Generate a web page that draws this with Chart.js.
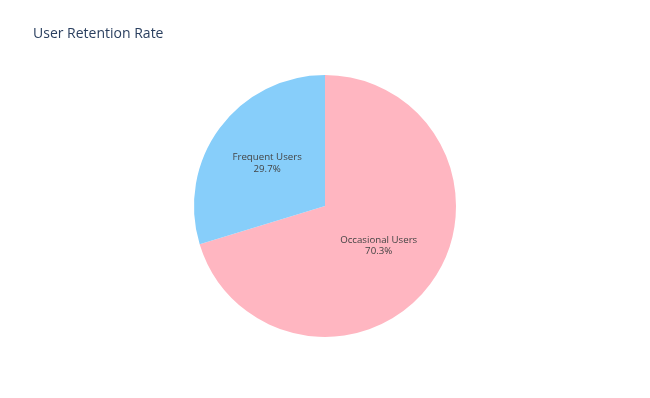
<!DOCTYPE html>
<html>
<head>
<meta charset="utf-8">
<script src="https://cdn.jsdelivr.net/npm/chart.js@4/dist/chart.umd.min.js"></script>
<style>
  html, body { margin: 0; padding: 0; background: #fff; }
  #wrap { width: 650px; height: 398px; }
</style>
</head>
<body>
<div id="wrap"><canvas id="c" width="650" height="398"></canvas></div>
<script>
const chartTitle = "User Retention Rate";
const categories = ["Occasional Users", "Frequent Users"];
const shares = [70.3, 29.7];
const sliceColors = ["#FFB6C1", "#87CEFA"];

const FONT = '"Open Sans", verdana, sans-serif';

const titlePlugin = {
  id: 'plotTitle',
  afterDraw(chart) {
    const ctx = chart.ctx;
    ctx.save();
    ctx.font = '14px ' + FONT;
    ctx.fillStyle = '#2a3f5f';
    ctx.textAlign = 'left';
    ctx.textBaseline = 'alphabetic';
    ctx.fillText(chartTitle, 33, 38.3);
    ctx.restore();
  }
};

const sliceLabelPlugin = {
  id: 'sliceLabels',
  afterDatasetsDraw(chart) {
    const ctx = chart.ctx;
    const meta = chart.getDatasetMeta(0);
    const data = chart.data.datasets[0].data;
    const total = data.reduce((a, b) => a + b, 0);
    ctx.save();
    ctx.font = '9.7px ' + FONT;
    ctx.fillStyle = '#444';
    ctx.textAlign = 'center';
    ctx.textBaseline = 'middle';
    meta.data.forEach((arc, i) => {
      const p = arc.getProps(['x', 'y', 'startAngle', 'endAngle', 'outerRadius'], true);
      const mid = (p.startAngle + p.endAngle) / 2;
      const f = i === 0 ? 0.51 : 0.55;
      const cx = p.x + Math.cos(mid) * p.outerRadius * f;
      const cy = p.y + Math.sin(mid) * p.outerRadius * f;
      const pct = (data[i] / total * 100).toFixed(1) + '%';
      ctx.fillText(chart.data.labels[i], cx, cy - 5.75);
      ctx.fillText(pct, cx, cy + 5.75);
    });
    ctx.restore();
  }
};

new Chart(document.getElementById('c'), {
  type: 'pie',
  data: {
    labels: categories,
    datasets: [{
      data: shares,
      backgroundColor: sliceColors,
      borderWidth: 0
    }]
  },
  options: {
    responsive: false,
    animation: false,
    layout: { padding: { top: 75, bottom: 61, left: 194, right: 194 } },
    plugins: {
      legend: { display: false },
      tooltip: { enabled: false },
      title: { display: false }
    }
  },
  plugins: [titlePlugin, sliceLabelPlugin]
});
</script>
</body>
</html>
